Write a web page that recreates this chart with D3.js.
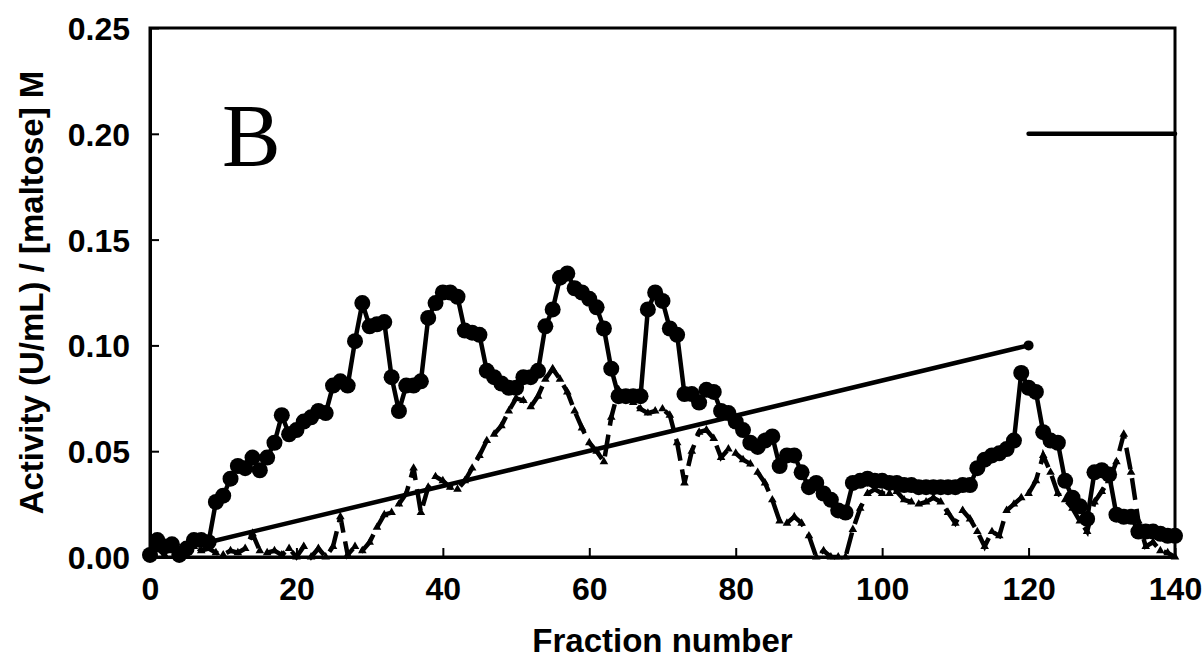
<!DOCTYPE html>
<html lang="en">
<head>
    <meta charset="UTF-8">
    <script src="https://d3js.org/d3.v7.min.js"></script>
    <title>Fraction activity B</title>
    <style>
        body { margin: 0; background: #fff; }
        .tick text { font-family: "Liberation Sans", Arial, sans-serif; font-weight: bold; font-size: 32px; fill: #000; }
        .axis-title { font-family: "Liberation Sans", Arial, sans-serif; font-weight: bold; font-size: 33px; }
    </style>
</head>
<body>
<div id="chart"></div>
<script>
    // activity (circles), one value per fraction 0..140
    const circleFractions = d3.range(0, 141);
    const circleValues = [
        0.001, 0.008, 0.005, 0.006, 0.001, 0.004, 0.008, 0.008, 0.007, 0.026,
        0.029, 0.037, 0.043, 0.042, 0.047, 0.041, 0.047, 0.054, 0.067, 0.058,
        0.060, 0.064, 0.066, 0.069, 0.068, 0.081, 0.083, 0.081, 0.102, 0.120,
        0.109, 0.110, 0.111, 0.085, 0.069, 0.081, 0.081, 0.083, 0.113, 0.120,
        0.125, 0.125, 0.123, 0.107, 0.106, 0.105, 0.088, 0.085, 0.082, 0.080,
        0.080, 0.085, 0.085, 0.088, 0.109, 0.117, 0.132, 0.134, 0.127, 0.125,
        0.122, 0.118, 0.108, 0.089, 0.076, 0.076, 0.076, 0.076, 0.117, 0.125,
        0.121, 0.108, 0.105, 0.077, 0.077, 0.073, 0.079, 0.078, 0.069, 0.068,
        0.064, 0.060, 0.054, 0.052, 0.055, 0.057, 0.043, 0.048, 0.048, 0.040,
        0.033, 0.035, 0.030, 0.027, 0.022, 0.021, 0.035, 0.036, 0.037, 0.036,
        0.036, 0.035, 0.035, 0.034, 0.034, 0.033, 0.033, 0.033, 0.033, 0.033,
        0.033, 0.034, 0.034, 0.042, 0.046, 0.048, 0.049, 0.051, 0.055, 0.087,
        0.080, 0.078, 0.059, 0.055, 0.054, 0.036, 0.028, 0.024, 0.018, 0.040,
        0.041, 0.039, 0.020, 0.019, 0.019, 0.012, 0.012, 0.012, 0.011, 0.010,
        0.010
    ];

    // second activity (triangles, dashed)
    const triangleFractions = d3.range(0, 141);
    const triangleValues = [
        0.000, 0.004, 0.001, 0.003, 0.000, 0.003, 0.005, 0.003, 0.004, 0.002,
        0.001, 0.003, 0.002, 0.004, 0.011, 0.003, 0.002, 0.003, 0.001, 0.004,
        0.000, 0.005, 0.000, 0.004, 0.000, 0.005, 0.019, 0.001, 0.005, 0.003,
        0.007, 0.014, 0.020, 0.021, 0.025, 0.030, 0.042, 0.021, 0.033, 0.038,
        0.036, 0.033, 0.032, 0.036, 0.042, 0.048, 0.055, 0.058, 0.062, 0.069,
        0.075, 0.074, 0.071, 0.076, 0.084, 0.089, 0.084, 0.078, 0.069, 0.061,
        0.054, 0.050, 0.045, 0.066, 0.079, 0.076, 0.073, 0.070, 0.068, 0.069,
        0.070, 0.067, 0.054, 0.035, 0.050, 0.059, 0.060, 0.056, 0.047, 0.051,
        0.049, 0.046, 0.044, 0.040, 0.035, 0.027, 0.017, 0.016, 0.019, 0.016,
        0.010, 0.000, 0.003, 0.000, 0.000, 0.000, 0.013, 0.023, 0.030, 0.032,
        0.030, 0.030, 0.031, 0.027, 0.026, 0.025, 0.026, 0.028, 0.026, 0.021,
        0.016, 0.022, 0.018, 0.012, 0.005, 0.012, 0.010, 0.022, 0.025, 0.028,
        0.030, 0.036, 0.048, 0.040, 0.030, 0.027, 0.023, 0.017, 0.012, 0.026,
        0.031, 0.036, 0.045, 0.058, 0.040, 0.017, 0.005, 0.007, 0.003, 0.002,
        0.000
    ];

    // maltose gradient
    const gradientFractions = [8, 120];
    const gradientValues = [0.007, 0.1];
    const plateauFractions = [120, 140];
    const plateauValues = [0.2, 0.2];

    const xTicks = [0, 20, 40, 60, 80, 100, 120, 140];
    const yTicks = [0, 0.05, 0.10, 0.15, 0.20, 0.25];

    const width = 1204, height = 665;
    const margin = {top: 28, right: 29, bottom: 108, left: 150};

    const svg = d3.select("#chart").append("svg")
        .attr("width", width)
        .attr("height", height);

    const x = d3.scaleLinear().domain([0, 140]).range([margin.left, width - margin.right]);
    const y = d3.scaleLinear().domain([0, 0.25]).range([height - margin.bottom, margin.top]);

    // frame
    svg.append("rect")
        .attr("x", x(0)).attr("y", y(0.25))
        .attr("width", x(140) - x(0)).attr("height", y(0) - y(0.25))
        .attr("fill", "none").attr("stroke", "#000").attr("stroke-width", 3);

    // axes, ticks pointing inside
    const xAxis = svg.append("g")
        .attr("transform", "translate(0," + y(0) + ")")
        .call(d3.axisBottom(x).tickValues(xTicks).tickSizeInner(-9).tickSizeOuter(0).tickPadding(20).tickFormat(d3.format("d")));
    const yAxis = svg.append("g")
        .attr("transform", "translate(" + x(0) + ",0)")
        .call(d3.axisLeft(y).tickValues(yTicks).tickSizeInner(-9).tickSizeOuter(0).tickPadding(20).tickFormat(d3.format(".2f")));
    [xAxis, yAxis].forEach(function (a) {
        a.select(".domain").attr("stroke-width", 3);
        a.selectAll(".tick line").attr("stroke-width", 2);
    });
    xAxis.selectAll(".tick text").attr("dy", "0.71em");
    yAxis.selectAll(".tick text").attr("dy", "0.36em");

    // gradient lines
    const line = d3.line().x(d => x(d[0])).y(d => y(d[1]));
    svg.append("path")
        .datum(d3.zip(gradientFractions, gradientValues))
        .attr("d", line)
        .attr("fill", "none").attr("stroke", "#000").attr("stroke-width", 4.5)
        .attr("stroke-linecap", "round");
    svg.append("circle")
        .attr("cx", x(gradientFractions[1])).attr("cy", y(gradientValues[1]))
        .attr("r", 5);
    svg.append("path")
        .datum(d3.zip(plateauFractions, plateauValues))
        .attr("d", line)
        .attr("fill", "none").attr("stroke", "#000").attr("stroke-width", 4.5)
        .attr("stroke-linecap", "round");

    // triangle series, dashed
    const triData = d3.zip(triangleFractions, triangleValues);
    svg.append("path")
        .datum(triData)
        .attr("d", line)
        .attr("fill", "none").attr("stroke", "#000").attr("stroke-width", 4.5)
        .attr("stroke-dasharray", "22,9");
    svg.selectAll(".tri")
        .data(triData)
        .enter().append("path")
        .attr("class", "tri")
        .attr("transform", d => "translate(" + x(d[0]) + "," + y(d[1]) + ")")
        .attr("d", d3.symbol(d3.symbolTriangle, 32));

    // circle series
    const circData = d3.zip(circleFractions, circleValues);
    svg.append("path")
        .datum(circData)
        .attr("d", line)
        .attr("fill", "none").attr("stroke", "#000").attr("stroke-width", 4.5);
    svg.selectAll(".dot")
        .data(circData)
        .enter().append("circle")
        .attr("class", "dot")
        .attr("cx", d => x(d[0]))
        .attr("cy", d => y(d[1]))
        .attr("r", 8);

    // panel letter
    svg.append("text")
        .attr("x", 222).attr("y", 165)
        .attr("font-family", "'Liberation Serif', 'Times New Roman', serif")
        .attr("font-size", 88)
        .text("B");

    // axis titles
    svg.append("text")
        .attr("class", "axis-title")
        .attr("x", (x(0) + x(140)) / 2).attr("y", 652)
        .attr("text-anchor", "middle")
        .text("Fraction number");
    svg.append("text")
        .attr("class", "axis-title")
        .attr("transform", "translate(43," + ((y(0) + y(0.25)) / 2) + ") rotate(-90)")
        .attr("text-anchor", "middle")
        .text("Activity (U/mL) / [maltose] M");
</script>
</body>
</html>
